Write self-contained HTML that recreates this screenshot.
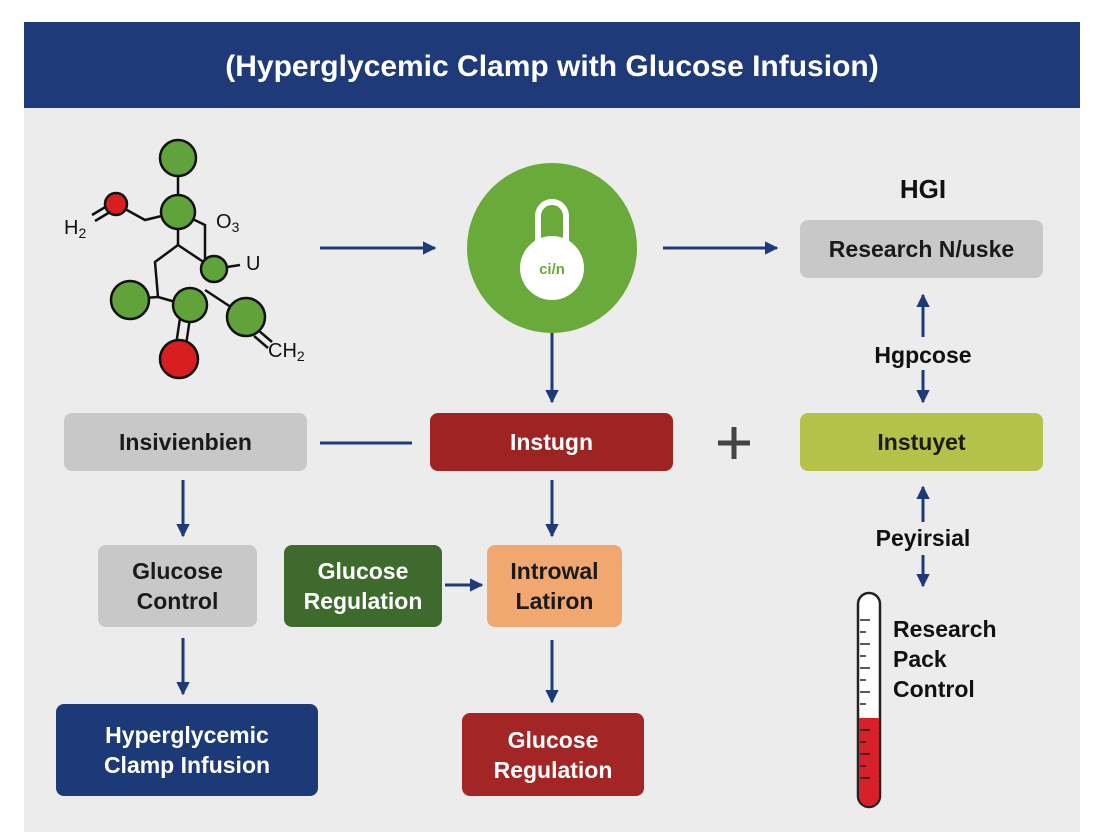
<!DOCTYPE html>
<html><head><style>
body{margin:0;width:1104px;height:832px;background:#fff;font-family:"Liberation Sans",sans-serif;position:relative;overflow:hidden}
.panel{position:absolute;left:24px;top:22px;width:1056px;height:810px;background:#ececec}
.hdr{position:absolute;left:24px;top:22px;width:1056px;height:86px;background:#1e3a78;color:#fff;font-size:30px;font-weight:bold;text-align:center;line-height:90px}
.b{position:absolute;border-radius:8px;display:flex;align-items:center;justify-content:center;text-align:center;font-weight:bold;font-size:23px;line-height:30px;color:#1a1a1a}
.t{position:absolute;font-weight:bold;font-size:23px;color:#111;text-align:center}
svg{position:absolute;left:0;top:0}
</style></head><body>
<div class="panel"></div>
<div class="hdr">(Hyperglycemic Clamp with Glucose Infusion)</div>
<svg width="1104" height="832">
<defs><marker id="a" viewBox="0 0 10 10" refX="9" refY="5" markerWidth="4.5" markerHeight="4.5" orient="auto"><path d="M0,0L10,5L0,10z" fill="#1e3a78"/></marker></defs>
<g stroke="#1e3a78" stroke-width="3" fill="none" marker-end="url(#a)">
<line x1="320" y1="248" x2="435" y2="248"/><line x1="663" y1="248" x2="777" y2="248"/>
<line x1="552" y1="330" x2="552" y2="402"/><line x1="183" y1="480" x2="183" y2="536"/>
<line x1="552" y1="480" x2="552" y2="536"/><line x1="445" y1="585" x2="482" y2="585"/>
<line x1="183" y1="638" x2="183" y2="694"/><line x1="552" y1="640" x2="552" y2="702"/>
<line x1="923" y1="337" x2="923" y2="295"/><line x1="923" y1="370" x2="923" y2="402"/>
<line x1="923" y1="522" x2="923" y2="487"/><line x1="923" y1="555" x2="923" y2="586"/>
</g>
<line x1="320" y1="443" x2="412" y2="443" stroke="#1e3a78" stroke-width="3"/>
<g stroke="#444" stroke-width="5"><line x1="718" y1="443" x2="750" y2="443"/><line x1="734" y1="427" x2="734" y2="459"/></g>
<g stroke="#111" stroke-width="2.5" fill="none">
<line x1="178" y1="158" x2="178" y2="212"/><path d="M116,204L145,220L178,212"/><line x1="92" y1="215" x2="112" y2="203"/><line x1="95" y1="221" x2="115" y2="209"/>
<line x1="178" y1="212" x2="178" y2="245"/><path d="M178,245L155,262L158,297L186,305"/><line x1="178" y1="245" x2="214" y2="269"/>
<path d="M178,212L205,225L205,269"/><line x1="214" y1="269" x2="240" y2="265"/><line x1="158" y1="297" x2="130" y2="299"/>
<line x1="205" y1="290" x2="246" y2="317"/><line x1="186" y1="305" x2="186" y2="320"/><line x1="180" y1="318" x2="176" y2="345"/><line x1="190" y1="318" x2="186" y2="345"/>
<line x1="258" y1="330" x2="272" y2="342"/><line x1="254" y1="336" x2="268" y2="348"/>
</g>
<g stroke="#111" stroke-width="2.5">
<circle cx="178" cy="158" r="18" fill="#5fa33a"/><circle cx="178" cy="212" r="17" fill="#5fa33a"/>
<circle cx="116" cy="204" r="11" fill="#d81e1e"/><circle cx="214" cy="269" r="13" fill="#5fa33a"/>
<circle cx="130" cy="300" r="19" fill="#5fa33a"/><circle cx="190" cy="305" r="17" fill="#5fa33a"/>
<circle cx="246" cy="317" r="19" fill="#5fa33a"/><circle cx="179" cy="359" r="19" fill="#d81e1e"/>
</g>
<g fill="#111" font-size="20" font-family="Liberation Sans"><text x="64" y="234">H<tspan font-size="14" dy="4">2</tspan></text>
<text x="216" y="228">O<tspan font-size="14" dy="4">3</tspan></text><text x="246" y="270">U</text>
<text x="268" y="357">CH<tspan font-size="14" dy="4">2</tspan></text></g>
<circle cx="552" cy="248" r="85" fill="#6aaa3a"/>
<path d="M538,248V216a14,14 0 0 1 28,0V248" stroke="#fff" stroke-width="6" fill="none"/>
<circle cx="552" cy="268" r="32" fill="#fff"/>
<text x="552" y="274" fill="#6aaa3a" font-size="15" font-weight="bold" text-anchor="middle" font-family="Liberation Sans">ci/n</text>
<rect x="858" y="593" width="22" height="214" rx="11" fill="#fff" stroke="#222" stroke-width="2.5"/>
<path d="M859,718H879V796a10,10 0 0 1 -20,0z" fill="#d8202a"/>
<g stroke="#222" stroke-width="1.5">
<line x1="860" y1="620" x2="870" y2="620"/><line x1="860" y1="632" x2="866" y2="632"/><line x1="860" y1="644" x2="870" y2="644"/><line x1="860" y1="656" x2="866" y2="656"/><line x1="860" y1="668" x2="870" y2="668"/><line x1="860" y1="680" x2="866" y2="680"/><line x1="860" y1="692" x2="870" y2="692"/><line x1="860" y1="704" x2="866" y2="704"/><line x1="860" y1="730" x2="870" y2="730"/><line x1="860" y1="742" x2="866" y2="742"/><line x1="860" y1="754" x2="870" y2="754"/><line x1="860" y1="766" x2="866" y2="766"/><line x1="860" y1="778" x2="870" y2="778"/>
</g>
</svg>
<div class="t" style="left:873px;top:174px;width:100px;font-size:26px">HGI</div>
<div class="b" style="left:800px;top:220px;width:243px;height:58px;background:#c8c8c8">Research N/uske</div>
<div class="t" style="left:843px;top:342px;width:160px">Hgpcose</div>
<div class="b" style="left:64px;top:413px;width:243px;height:58px;background:#c8c8c8">Insivienbien</div>
<div class="b" style="left:430px;top:413px;width:243px;height:58px;background:#9e2424;color:#fff">Instugn</div>
<div class="b" style="left:800px;top:413px;width:243px;height:58px;background:#b5c24a">Instuyet</div>
<div class="t" style="left:843px;top:525px;width:160px">Peyirsial</div>
<div class="b" style="left:98px;top:545px;width:159px;height:82px;background:#c8c8c8">Glucose<br>Control</div>
<div class="b" style="left:284px;top:545px;width:158px;height:82px;background:#3f6a2e;color:#fff">Glucose<br>Regulation</div>
<div class="b" style="left:487px;top:545px;width:135px;height:82px;background:#f0a870">Introwal<br>Latiron</div>
<div class="b" style="left:56px;top:704px;width:262px;height:92px;background:#1d3a78;color:#fff">Hyperglycemic<br>Clamp Infusion</div>
<div class="b" style="left:462px;top:713px;width:182px;height:83px;background:#a32525;color:#fff">Glucose<br>Regulation</div>
<div class="t" style="left:893px;top:614px;text-align:left;line-height:30px">Research<br>Pack<br>Control</div>
</body></html>
